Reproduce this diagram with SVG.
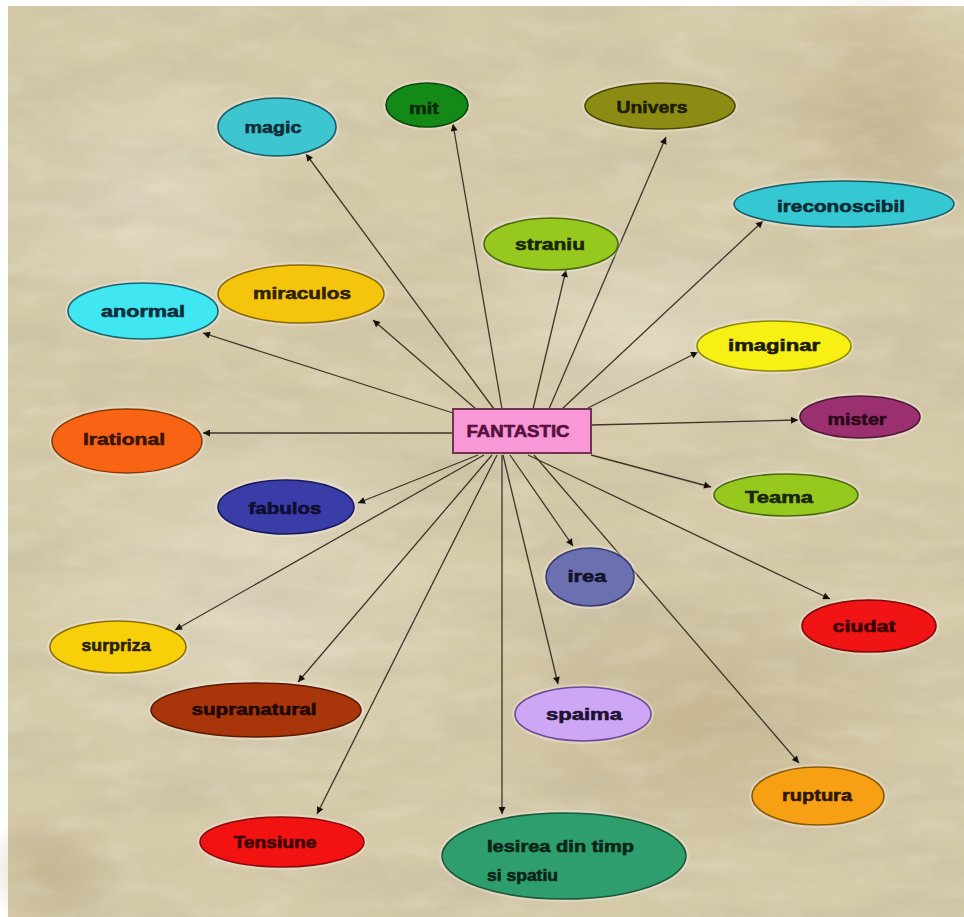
<svg xmlns="http://www.w3.org/2000/svg" width="964" height="917" viewBox="0 0 964 917">
<defs>
<style>
.e{stroke-width:1.6}
.h{fill:none;stroke:#fff6f0;stroke-opacity:.3;stroke-width:6}
.t{font-family:"Liberation Sans",Arial,sans-serif;font-weight:bold;font-size:17px;text-anchor:middle;stroke-width:0.6}
.tl{font-family:"Liberation Sans",Arial,sans-serif;font-weight:bold;font-size:17px;stroke-width:0.6}
.c{stroke:#3e352c;stroke-width:1.3;fill:none;marker-end:url(#ah)}
</style>
<marker id="ah" viewBox="0 0 10 10" refX="10" refY="5" markerWidth="9" markerHeight="7" markerUnits="userSpaceOnUse" orient="auto">
<path d="M0,0 L10,5 L0,10 z" fill="#15110c"/>
</marker>
<filter id="paper" x="0" y="0" width="100%" height="100%">
<feTurbulence type="fractalNoise" baseFrequency="0.006 0.022" numOctaves="4" seed="7"/>
<feColorMatrix type="matrix" values="0 0 0 0 0.50  0 0 0 0 0.45  0 0 0 0 0.33  1.6 0 0 0 -0.62"/>
</filter>
<filter id="paper2" x="0" y="0" width="100%" height="100%">
<feTurbulence type="fractalNoise" baseFrequency="0.02 0.05" numOctaves="3" seed="21"/>
<feColorMatrix type="matrix" values="0 0 0 0 0.92  0 0 0 0 0.90  0 0 0 0 0.84  0 1.4 0 0 -0.64"/>
</filter>
<radialGradient id="lite" cx="0.5" cy="0.5" r="0.5">
<stop offset="0" stop-color="#e6e0cc" stop-opacity="0.65"/>
<stop offset="1" stop-color="#e6e0cc" stop-opacity="0"/>
</radialGradient>
<radialGradient id="dark" cx="0.5" cy="0.5" r="0.5">
<stop offset="0" stop-color="#b8a478" stop-opacity="0.5"/>
<stop offset="1" stop-color="#b8a478" stop-opacity="0"/>
</radialGradient>
</defs>

<rect width="964" height="917" fill="#ffffff"/>
<g id="background">
<rect x="8" y="6" width="956" height="911" fill="#d5caa9"/>
<ellipse cx="250" cy="600" rx="240" ry="200" fill="url(#lite)"/>
<ellipse cx="150" cy="200" rx="160" ry="150" fill="url(#lite)"/>
<ellipse cx="640" cy="330" rx="200" ry="120" fill="url(#lite)"/>
<ellipse cx="700" cy="720" rx="230" ry="140" fill="url(#dark)"/>
<ellipse cx="880" cy="120" rx="120" ry="140" fill="url(#dark)"/>
<ellipse cx="50" cy="870" rx="70" ry="60" fill="url(#dark)"/>
<rect x="8" y="6" width="956" height="911" filter="url(#paper)" opacity="0.5"/>
<rect x="8" y="6" width="956" height="911" filter="url(#paper2)" opacity="0.3"/>
</g>

<g id="connectors">
<line class="c" x1="494" y1="409" x2="306" y2="154"/>
<line class="c" x1="502" y1="409" x2="453" y2="124"/>
<line class="c" x1="549" y1="409" x2="666" y2="137"/>
<line class="c" x1="533" y1="409" x2="566" y2="270"/>
<line class="c" x1="562" y1="409" x2="763" y2="221"/>
<line class="c" x1="588" y1="408" x2="698" y2="352"/>
<line class="c" x1="476" y1="409" x2="373" y2="320"/>
<line class="c" x1="453" y1="413" x2="203" y2="333"/>
<line class="c" x1="453" y1="433" x2="203" y2="433"/>
<line class="c" x1="591" y1="425" x2="798" y2="420"/>
<line class="c" x1="591" y1="455" x2="711" y2="487"/>
<line class="c" x1="528" y1="455" x2="830" y2="599"/>
<line class="c" x1="534" y1="455" x2="799" y2="763"/>
<line class="c" x1="510" y1="455" x2="573" y2="546"/>
<line class="c" x1="503" y1="455" x2="558" y2="684"/>
<line class="c" x1="502" y1="455" x2="502" y2="814"/>
<line class="c" x1="497" y1="455" x2="317" y2="814"/>
<line class="c" x1="492" y1="455" x2="298" y2="682"/>
<line class="c" x1="484" y1="455" x2="175" y2="630"/>
<line class="c" x1="478" y1="455" x2="358" y2="503"/>
</g>

<g id="node-fantastic">
<rect x="453" y="409" width="138" height="44" fill="#f898d6" stroke="#6e3452" stroke-width="2"/>
<text class="t" x="518" y="437" textLength="103" lengthAdjust="spacingAndGlyphs" style="fill:#561040;stroke:#561040">FANTASTIC</text>
</g>

<g id="node-magic">
<ellipse class="h" cx="277" cy="127" rx="59" ry="29"/>
<ellipse class="e" cx="277" cy="127" rx="59" ry="29" fill="#3ec6d0" stroke="#1a5c6a"/>
<text class="t" x="273" y="133" textLength="57" lengthAdjust="spacingAndGlyphs" style="fill:#102c38;stroke:#102c38">magic</text>
</g>

<g id="node-mit">
<ellipse class="h" cx="427" cy="105" rx="41" ry="22"/>
<ellipse class="e" cx="427" cy="105" rx="41" ry="22" fill="#138a18" stroke="#0a4a0a"/>
<text class="t" x="424" y="114" textLength="30" lengthAdjust="spacingAndGlyphs" style="fill:#0a2a0a;stroke:#0a2a0a">mit</text>
</g>

<g id="node-univers">
<ellipse class="h" cx="660" cy="106" rx="75" ry="23"/>
<ellipse class="e" cx="660" cy="106" rx="75" ry="23" fill="#8c8c14" stroke="#4a4a08"/>
<text class="t" x="652" y="113" textLength="71" lengthAdjust="spacingAndGlyphs" style="fill:#1e1e06;stroke:#1e1e06">Univers</text>
</g>

<g id="node-ireconoscibil">
<ellipse class="h" cx="844" cy="204" rx="110" ry="23"/>
<ellipse class="e" cx="844" cy="204" rx="110" ry="23" fill="#36c8d2" stroke="#1a5a66"/>
<text class="t" x="841" y="212" textLength="128" lengthAdjust="spacingAndGlyphs" style="fill:#0e2a34;stroke:#0e2a34">ireconoscibil</text>
</g>

<g id="node-straniu">
<ellipse class="h" cx="551" cy="244" rx="67" ry="26"/>
<ellipse class="e" cx="551" cy="244" rx="67" ry="26" fill="#96c81e" stroke="#4a6a10"/>
<text class="t" x="550" y="250" textLength="70" lengthAdjust="spacingAndGlyphs" style="fill:#1a260a;stroke:#1a260a">straniu</text>
</g>

<g id="node-miraculos">
<ellipse class="h" cx="301" cy="294" rx="83" ry="29"/>
<ellipse class="e" cx="301" cy="294" rx="83" ry="29" fill="#f5c40c" stroke="#8a6a0a"/>
<text class="t" x="302" y="299" textLength="98" lengthAdjust="spacingAndGlyphs" style="fill:#2e2206;stroke:#2e2206">miraculos</text>
</g>

<g id="node-anormal">
<ellipse class="h" cx="143" cy="311" rx="75" ry="28"/>
<ellipse class="e" cx="143" cy="311" rx="75" ry="28" fill="#40e6f2" stroke="#1a6670"/>
<text class="t" x="143" y="317" textLength="84" lengthAdjust="spacingAndGlyphs" style="fill:#0e2c3a;stroke:#0e2c3a">anormal</text>
</g>

<g id="node-irational">
<ellipse class="h" cx="127" cy="441" rx="75" ry="32"/>
<ellipse class="e" cx="127" cy="441" rx="75" ry="32" fill="#f86414" stroke="#8a3a08"/>
<text class="t" x="124" y="445" textLength="82" lengthAdjust="spacingAndGlyphs" style="fill:#3a1404;stroke:#3a1404">Irational</text>
</g>

<g id="node-imaginar">
<ellipse class="h" cx="774" cy="346" rx="77" ry="25"/>
<ellipse class="e" cx="774" cy="346" rx="77" ry="25" fill="#f8f014" stroke="#8a8a0a"/>
<text class="t" x="774" y="351" textLength="92" lengthAdjust="spacingAndGlyphs" style="fill:#1a1a06;stroke:#1a1a06">imaginar</text>
</g>

<g id="node-mister">
<ellipse class="h" cx="860" cy="417" rx="60" ry="21"/>
<ellipse class="e" cx="860" cy="417" rx="60" ry="21" fill="#9a3070" stroke="#501838"/>
<text class="t" x="857" y="425" textLength="59" lengthAdjust="spacingAndGlyphs" style="fill:#2a0a1a;stroke:#2a0a1a">mister</text>
</g>

<g id="node-teama">
<ellipse class="h" cx="786" cy="495" rx="72" ry="21"/>
<ellipse class="e" cx="786" cy="495" rx="72" ry="21" fill="#96c81e" stroke="#4a6a10"/>
<text class="t" x="779" y="503" textLength="68" lengthAdjust="spacingAndGlyphs" style="fill:#1a260a;stroke:#1a260a">Teama</text>
</g>

<g id="node-fabulos">
<ellipse class="h" cx="286" cy="507" rx="68" ry="27"/>
<ellipse class="e" cx="286" cy="507" rx="68" ry="27" fill="#3a3ca8" stroke="#1a1a60"/>
<text class="t" x="285" y="514" textLength="73" lengthAdjust="spacingAndGlyphs" style="fill:#0e0e2e;stroke:#0e0e2e">fabulos</text>
</g>

<g id="node-irea">
<ellipse class="h" cx="590" cy="577" rx="44" ry="29"/>
<ellipse class="e" cx="590" cy="577" rx="44" ry="29" fill="#6a70b0" stroke="#3a3a70"/>
<text class="t" x="587" y="582" textLength="39" lengthAdjust="spacingAndGlyphs" style="fill:#12122a;stroke:#12122a">irea</text>
</g>

<g id="node-ciudat">
<ellipse class="h" cx="869" cy="626" rx="67" ry="26"/>
<ellipse class="e" cx="869" cy="626" rx="67" ry="26" fill="#f01414" stroke="#800a0a"/>
<text class="t" x="864" y="632" textLength="63" lengthAdjust="spacingAndGlyphs" style="fill:#3a0404;stroke:#3a0404">ciudat</text>
</g>

<g id="node-surpriza">
<ellipse class="h" cx="118" cy="647" rx="68" ry="26"/>
<ellipse class="e" cx="118" cy="647" rx="68" ry="26" fill="#f8d00a" stroke="#8a700a"/>
<text class="t" x="116" y="651" textLength="69" lengthAdjust="spacingAndGlyphs" style="fill:#2a2206;stroke:#2a2206">surpriza</text>
</g>

<g id="node-supranatural">
<ellipse class="h" cx="256" cy="710" rx="105" ry="27"/>
<ellipse class="e" cx="256" cy="710" rx="105" ry="27" fill="#a8360a" stroke="#5a1a04"/>
<text class="t" x="254" y="715" textLength="125" lengthAdjust="spacingAndGlyphs" style="fill:#1e0802;stroke:#1e0802">supranatural</text>
</g>

<g id="node-spaima">
<ellipse class="h" cx="583" cy="714" rx="68" ry="27"/>
<ellipse class="e" cx="583" cy="714" rx="68" ry="27" fill="#cda6f6" stroke="#6a4a9a"/>
<text class="t" x="584" y="720" textLength="76" lengthAdjust="spacingAndGlyphs" style="fill:#1e1230;stroke:#1e1230">spaima</text>
</g>

<g id="node-ruptura">
<ellipse class="h" cx="818" cy="796" rx="66" ry="29"/>
<ellipse class="e" cx="818" cy="796" rx="66" ry="29" fill="#f8a014" stroke="#8a5a08"/>
<text class="t" x="817" y="801" textLength="70" lengthAdjust="spacingAndGlyphs" style="fill:#2e1a04;stroke:#2e1a04">ruptura</text>
</g>

<g id="node-tensiune">
<ellipse class="h" cx="282" cy="842" rx="82" ry="25"/>
<ellipse class="e" cx="282" cy="842" rx="82" ry="25" fill="#f21212" stroke="#8a0a0a"/>
<text class="t" x="275" y="848" textLength="83" lengthAdjust="spacingAndGlyphs" style="fill:#3a0404;stroke:#3a0404">Tensiune</text>
</g>

<g id="node-iesirea">
<ellipse class="h" cx="564" cy="856" rx="122" ry="43"/>
<ellipse class="e" cx="564" cy="856" rx="122" ry="43" fill="#2f9e6e" stroke="#1a5a3a"/>
<text class="tl" x="487" y="852" textLength="147" lengthAdjust="spacingAndGlyphs" style="fill:#0a2418;stroke:#0a2418">Iesirea din timp</text>
<text class="tl" x="487" y="881" textLength="71" lengthAdjust="spacingAndGlyphs" style="fill:#0a2418;stroke:#0a2418">si spatiu</text>
</g>
</svg>
